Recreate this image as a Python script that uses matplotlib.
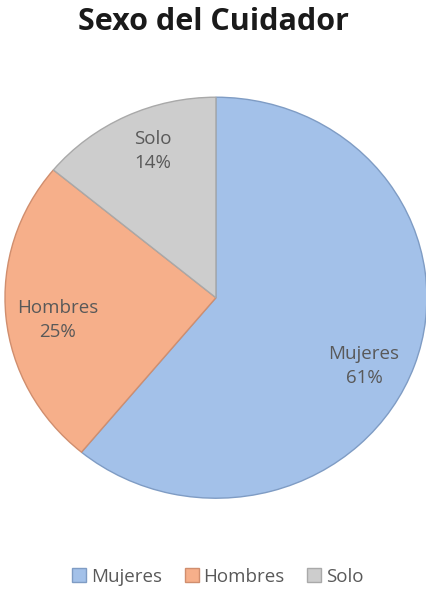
import numpy as np
import matplotlib.pyplot as plt
from matplotlib.patches import Patch

# data
categories = ['Mujeres', 'Hombres', 'Solo']
shares = [61, 25, 14]
colors = ['#A3C1E9', '#F6AF8A', '#CDCDCD']
edges = ['#7F9CC4', '#D08E6E', '#A9A9A9']

# label placement tweaks (degrees off the wedge middle, radius)
label_shift = [-6, 3, -3]
label_r = [0.78, 0.76, 0.79]

plt.rcParams['font.family'] = ['Open Sans', 'DejaVu Sans']

fig = plt.figure(figsize=(4.27, 5.91), dpi=100)
ax = fig.add_axes([0.0117, 0.157, 0.988, 0.6785])

wedges, _ = ax.pie(shares, colors=colors, startangle=90, counterclock=False,
                   wedgeprops=dict(linewidth=1.0))
for w, ec, c, v, sh, r in zip(wedges, edges, categories, shares, label_shift, label_r):
    w.set_edgecolor(ec)
    ang = np.deg2rad((w.theta1 + w.theta2) / 2 + sh)
    ax.text(r * np.cos(ang), r * np.sin(ang), f'{c}\n{v}%', ha='center', va='center',
            color='#595959', fontsize=13.5, linespacing=1.45)

ax.set_aspect('auto')
ax.set_xlim(-1, 1)
ax.set_ylim(-1, 1)

fig.suptitle('Sexo del Cuidador', y=0.988, fontsize=22, fontweight='bold', color='#1a1a1a')

handles = [Patch(facecolor=c, edgecolor=e) for c, e in zip(colors, edges)]
fig.legend(handles, categories, loc='center', bbox_to_anchor=(0.51, 0.024), ncol=3,
           frameon=False, fontsize=13.5, labelcolor='#595959',
           handlelength=0.75, handleheight=0.75, handletextpad=0.25, columnspacing=1.2)

fig.savefig('out.png', dpi=100)
